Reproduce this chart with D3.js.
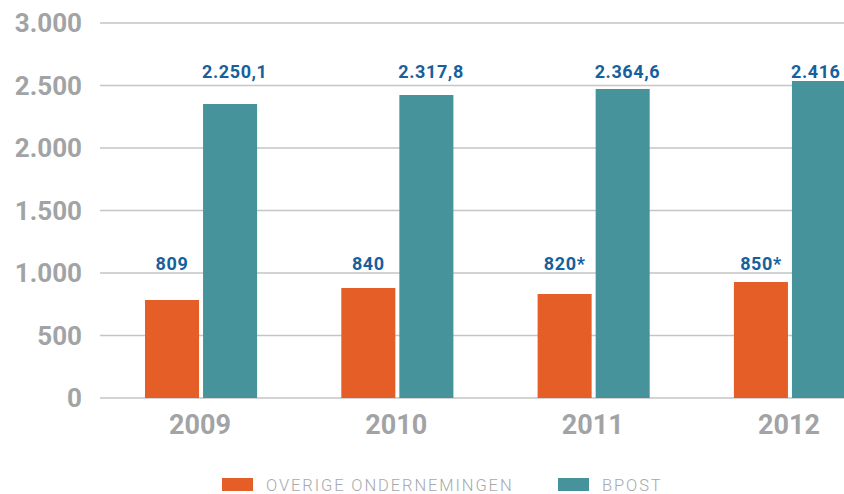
<!DOCTYPE html>
<html lang="nl">
<head>
<meta charset="utf-8">
<title>bpost vs overige ondernemingen</title>
<script src="https://d3js.org/d3.v7.min.js"></script>
<style>
  body{margin:0;background:#fff;}
  svg{display:block;}
  .tick-label{font-family:Roboto,"Liberation Sans",sans-serif;font-weight:700;fill:#a2a3a5;}
  .val{font-family:Roboto,"Liberation Sans",sans-serif;font-weight:700;fill:#17609e;font-size:18px;letter-spacing:0.6px;}
  .legend{font-family:Roboto,"Liberation Sans",sans-serif;font-weight:300;fill:#a7a9ab;font-size:16.5px;letter-spacing:1.9px;}
</style>
</head>
<body>
<div id="chart"></div>
<script>
// data
var years = ["2009", "2010", "2011", "2012"]
var seriesNames = ["OVERIGE ONDERNEMINGEN", "BPOST"]
var overige = [784, 880, 832, 928]          // bar heights
var bpost = [2352, 2424, 2472, 2536]
var overigeLabels = ["809", "840", "820*", "850*"]
var bpostLabels = ["2.250,1", "2.317,8", "2.364,6", "2.416"]
var yTicks = [0, 500, 1000, 1500, 2000, 2500, 3000]
var yTickLabels = ["0", "500", "1.000", "1.500", "2.000", "2.500", "3.000"]
var colors = ["#e65e27", "#47939b"]

var w = 844, h = 494

var svg = d3.select("#chart").append("svg")
    .attr("width", w)
    .attr("height", h)

var yScale = d3.scaleLinear().domain([0, 3000]).range([398, 23])
var xScale = d3.scaleBand().domain(years).range([145, 846]).paddingInner(0.429).paddingOuter(0)
var subScale = d3.scaleBand().domain(seriesNames).range([0, xScale.bandwidth()]).paddingInner(0.069)
var colorScale = d3.scaleOrdinal().domain(seriesNames).range(colors)

// gridlines
svg.selectAll(".grid")
    .data(yTicks)
    .enter()
    .append("line")
    .attr("class", "grid")
    .attr("x1", 100)
    .attr("x2", w)
    .attr("y1", function(d){ return yScale(d) })
    .attr("y2", function(d){ return yScale(d) })
    .attr("stroke", "#c5c5c5")
    .attr("stroke-width", 1.4)

// y tick labels
svg.selectAll(".ylab")
    .data(yTicks)
    .enter()
    .append("text")
    .attr("class", "tick-label ylab")
    .attr("x", 82)
    .attr("y", function(d){ return yScale(d) })
    .attr("dy", "0.36em")
    .attr("text-anchor", "end")
    .style("font-size", "26px")
    .text(function(d, i){ return yTickLabels[i] })

// build rows for bars
var rows = []
years.forEach(function(y, i){
    rows.push({year: y, series: seriesNames[0], value: overige[i], label: overigeLabels[i]})
    rows.push({year: y, series: seriesNames[1], value: bpost[i], label: bpostLabels[i]})
})

svg.selectAll(".bar")
    .data(rows)
    .enter()
    .append("rect")
    .attr("class", "bar")
    .attr("x", function(d){ return xScale(d.year) + subScale(d.series) })
    .attr("width", subScale.bandwidth())
    .attr("y", function(d){ return yScale(d.value) })
    .attr("height", function(d){ return yScale(0) - yScale(d.value) })
    .attr("fill", function(d){ return colorScale(d.series) })

// value labels sit at fixed heights, not on the bars
svg.selectAll(".val")
    .data(rows)
    .enter()
    .append("text")
    .attr("class", "val")
    .attr("x", function(d){
        var x0 = xScale(d.year) + subScale(d.series)
        if (d.series == seriesNames[0]) return x0 + subScale.bandwidth() / 2
        return x0 - 1
    })
    .attr("y", function(d){
        return d.series == seriesNames[0] ? yScale(1000) - 3 : yScale(2500) - 8
    })
    .attr("text-anchor", function(d){ return d.series == seriesNames[0] ? "middle" : "start" })
    .text(function(d){ return d.label })

// year labels
svg.selectAll(".xlab")
    .data(years)
    .enter()
    .append("text")
    .attr("class", "tick-label xlab")
    .attr("x", function(d){ return xScale(d) + xScale.bandwidth() / 2 - 1 })
    .attr("y", 434)
    .attr("text-anchor", "middle")
    .style("font-size", "27px")
    .text(function(d){ return d })

// legend
var legendX = [222, 558]
var leg = svg.selectAll(".leg")
    .data(seriesNames)
    .enter()
    .append("g")
    .attr("class", "leg")
    .attr("transform", function(d, i){ return "translate(" + legendX[i] + ",478)" })

leg.append("rect")
    .attr("width", 31)
    .attr("height", 13)
    .attr("fill", function(d){ return colorScale(d) })

leg.append("text")
    .attr("class", "legend")
    .attr("x", 44)
    .attr("y", 13)
    .text(function(d){ return d })
</script>
</body>
</html>
